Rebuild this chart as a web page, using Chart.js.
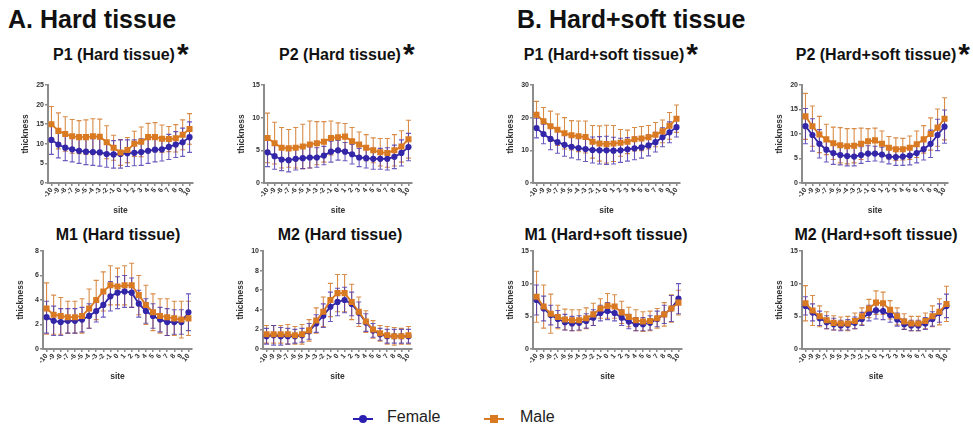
<!DOCTYPE html>
<html lang="en">
<head>
<meta charset="UTF-8">
<script src="https://cdn.jsdelivr.net/npm/chart.js@4.4.0/dist/chart.umd.min.js"></script>
<title>Thickness by site</title>
<style>
  body { margin: 0; width: 973px; height: 428px; background: #fff; position: relative; overflow: hidden;
         font-family: "Liberation Sans", Arial, sans-serif; color: #111; }
  .head { position: absolute; font-weight: bold; font-size: 25px; white-space: nowrap; top: 5px; }
  .ptitle { position: absolute; font-weight: bold; font-size: 16px; white-space: nowrap; transform: translateX(-50%); }
  .ptitle .star { position: absolute; left: 100%; top: -9px; font-size: 30px; margin-left: 2px; }
  canvas { position: absolute; }
  .legend { position: absolute; top: 408px; font-size: 16px; white-space: nowrap; color: #222; }
  .mk { position: absolute; top: 10px; height: 2px; width: 20px; }
  .mk i { position: absolute; left: 6px; top: -3px; width: 8px; height: 8px; }
</style>
</head>
<body>

<div class="head" style="left:8px">A. Hard tissue</div>
<div class="head" style="left:517px">B. Hard+soft tissue</div>

<div class="ptitle" style="left:114px;top:46px">P1 (Hard tissue)<span class="star">*</span></div>
<div class="ptitle" style="left:340px;top:46px">P2 (Hard tissue)<span class="star">*</span></div>
<div class="ptitle" style="left:604px;top:46px">P1 (Hard+soft tissue)<span class="star">*</span></div>
<div class="ptitle" style="left:876px;top:46px">P2 (Hard+soft tissue)<span class="star">*</span></div>
<div class="ptitle" style="left:118px;top:226px">M1 (Hard tissue)</div>
<div class="ptitle" style="left:340px;top:226px">M2 (Hard tissue)</div>
<div class="ptitle" style="left:606px;top:226px">M1 (Hard+soft tissue)</div>
<div class="ptitle" style="left:876px;top:226px">M2 (Hard+soft tissue)</div>

<div class="legend" style="left:353px">
  <span class="mk" style="left:0;background:#2a1fb0"><i style="background:#2a1fb0;border-radius:50%"></i></span>
  <span style="margin-left:34px">Female</span>
</div>
<div class="legend" style="left:484px">
  <span class="mk" style="left:0;background:#d97a22"><i style="background:#d97a22"></i></span>
  <span style="margin-left:36px">Male</span>
</div>

<script>
  var sites = ['-10','-9','-8','-7','-6','-5','-4','-3','-2','-1','0','1','2','3','4','5','6','7','8','9','10'];

  // P1 hard tissue
  var p1HardMale     = [15.0,13.3,12.5,11.9,11.7,11.7,11.9,11.8,10.4,9.0,7.8,8.4,10.0,10.5,11.7,11.7,11.3,11.2,11.4,12.3,13.8];
  var p1HardMaleSD   = [4.5,4.6,4.4,4.3,4.2,4.4,4.5,4.5,4.2,3.2,3.3,3.2,3.2,3.8,3.5,3.7,3.5,3.2,3.5,3.8,3.9];
  var p1HardFemale   = [11.0,9.8,9.0,8.6,8.2,8.0,7.9,7.8,7.4,7.3,7.4,7.6,7.7,7.9,8.2,8.5,8.6,9.2,9.8,10.4,11.7];
  var p1HardFemaleSD = [3.7,3.4,3.3,3.2,3.2,3.3,3.4,3.5,3.4,3.5,3.6,3.4,3.3,3.4,3.2,3.1,3.0,3.2,3.3,3.6,3.9];

  // P2 hard tissue
  var p2HardMale     = [6.9,6.1,5.4,5.3,5.4,5.6,5.9,6.1,6.3,6.9,7.0,7.1,6.4,5.9,5.4,5.0,4.7,4.6,5.0,5.6,6.7];
  var p2HardMaleSD   = [3.8,3.2,3.1,2.9,3.1,3.4,3.6,3.3,3.1,2.6,2.2,2.0,2.1,1.9,2.0,1.9,2.1,2.2,2.4,2.4,2.9];
  var p2HardFemale   = [4.7,4.1,3.6,3.5,3.7,3.8,3.9,3.9,4.2,4.8,5.0,4.8,4.4,3.9,3.8,3.7,3.7,3.7,4.0,4.6,5.5];
  var p2HardFemaleSD = [2.2,2.0,1.7,1.8,1.7,1.6,1.6,1.5,1.4,1.6,1.5,1.4,1.5,1.4,1.5,1.6,1.6,1.7,1.8,2.0,2.1];

  // P1 hard+soft tissue
  var p1SoftMale     = [20.9,18.9,17.4,16.3,15.2,14.6,14.3,14.1,12.6,12.1,11.9,12.1,12.3,12.6,13.4,13.6,14.0,14.8,15.8,17.5,19.7];
  var p1SoftMaleSD   = [4.1,4.2,4.6,4.8,4.8,4.5,4.7,4.9,5.0,5.4,5.8,5.5,4.1,3.6,3.6,3.7,3.6,3.7,3.5,4.1,4.2];
  var p1SoftFemale   = [16.8,15.0,13.5,12.5,11.7,11.1,10.7,10.4,10.1,10.0,10.0,9.9,10.0,10.3,10.6,10.9,11.5,12.5,14.0,15.5,17.1];
  var p1SoftFemaleSD = [3.0,3.0,3.3,3.4,3.5,3.4,3.6,3.8,4.0,4.2,4.3,4.1,3.7,3.6,3.5,3.3,3.2,3.0,2.9,3.2,3.0];

  // P2 hard+soft tissue
  var p2SoftMale     = [13.6,11.6,9.9,8.9,8.1,7.7,7.5,7.6,8.0,8.5,8.7,8.0,7.2,6.9,6.9,7.2,7.9,8.9,10.0,11.3,13.1];
  var p2SoftMaleSD   = [4.7,4.1,3.7,3.1,3.3,3.6,3.6,3.5,3.2,2.6,2.5,2.6,2.3,2.3,2.2,2.4,2.7,2.8,3.3,3.8,4.3];
  var p2SoftFemale   = [11.6,9.8,8.0,6.8,6.1,5.7,5.5,5.4,5.7,6.0,6.0,5.8,5.4,5.3,5.4,5.6,6.1,6.9,8.0,9.8,11.5];
  var p2SoftFemaleSD = [3.6,3.3,2.9,2.5,2.3,2.0,2.0,1.9,1.7,1.6,1.5,1.5,1.5,1.7,1.8,1.9,2.0,2.2,2.8,3.2,3.4];

  // M1 hard tissue
  var m1HardMale     = [3.3,2.8,2.7,2.6,2.6,2.7,3.3,4.0,4.7,5.2,5.1,5.2,5.2,4.4,3.6,3.0,2.7,2.6,2.5,2.4,2.5];
  var m1HardMaleSD   = [2.1,1.6,1.5,1.3,1.3,1.4,1.6,1.6,1.6,1.6,1.5,1.6,1.8,1.6,1.6,1.5,1.4,1.5,1.4,1.5,1.4];
  var m1HardFemale   = [2.6,2.3,2.2,2.3,2.3,2.4,2.7,3.1,3.6,4.3,4.6,4.7,4.6,3.7,3.1,2.7,2.4,2.2,2.2,2.2,3.0];
  var m1HardFemaleSD = [1.3,1.2,1.1,1.0,1.0,1.0,1.0,0.9,1.0,1.2,1.3,1.3,1.2,1.1,1.0,1.0,1.0,1.1,1.0,1.0,1.5];

  // M2 hard tissue
  var m2HardMale     = [1.5,1.5,1.5,1.5,1.4,1.5,1.9,2.9,3.8,5.0,5.7,5.7,4.8,3.8,2.8,2.0,1.6,1.4,1.3,1.3,1.4];
  var m2HardMaleSD   = [0.9,0.9,0.9,1.0,0.9,1.0,1.1,1.3,1.5,1.7,1.9,1.9,1.8,1.5,1.1,0.9,0.8,0.9,0.9,0.8,0.9];
  var m2HardFemale   = [1.3,1.4,1.3,1.3,1.3,1.4,1.8,2.6,3.4,4.3,4.8,5.0,4.6,3.7,2.7,1.9,1.5,1.3,1.3,1.3,1.3];
  var m2HardFemaleSD = [0.8,1.0,0.9,0.8,0.7,0.7,0.8,0.9,1.2,1.5,1.4,1.3,1.2,1.1,0.9,0.7,0.6,0.7,0.7,0.7,0.7];

  // M1 hard+soft tissue
  var m1SoftMale     = [8.0,6.5,5.4,4.9,4.5,4.4,4.4,4.7,5.3,6.2,6.6,6.5,5.6,4.9,4.4,4.2,4.3,4.7,5.3,6.2,7.1];
  var m1SoftMaleSD   = [3.9,3.3,3.0,1.8,1.6,1.6,1.6,1.6,1.7,1.5,1.9,1.8,1.7,1.5,1.6,1.5,1.5,1.5,1.8,2.1,1.9];
  var m1SoftFemale   = [7.5,6.2,5.2,4.6,4.1,3.9,4.0,4.3,4.8,5.5,5.8,5.5,4.8,4.2,3.8,3.8,4.0,4.6,5.3,6.2,7.7];
  var m1SoftFemaleSD = [2.3,1.9,1.5,1.3,1.2,1.1,1.1,1.1,1.2,1.2,1.3,1.2,1.2,1.1,1.0,1.0,1.1,1.2,1.4,2.0,2.3];

  // M2 hard+soft tissue
  var m2SoftMale     = [7.0,5.9,5.0,4.4,4.0,3.9,3.9,4.3,5.0,6.2,7.1,7.0,6.0,5.0,4.2,3.9,3.9,4.3,5.0,5.7,6.9];
  var m2SoftMaleSD   = [2.7,2.3,1.6,1.3,1.1,1.0,1.1,1.2,1.3,1.4,1.8,1.7,1.4,1.3,1.2,1.1,1.1,1.2,1.6,2.0,2.7];
  var m2SoftFemale   = [6.6,5.6,4.7,4.1,3.8,3.6,3.7,4.0,4.6,5.5,5.9,5.8,5.2,4.5,3.8,3.6,3.6,3.9,4.6,5.5,6.6];
  var m2SoftFemaleSD = [1.4,1.3,1.1,1.0,0.9,0.8,0.8,0.9,1.0,1.2,1.3,1.3,1.1,1.0,0.8,0.8,0.8,0.9,1.1,1.4,1.8];

  var femaleColor = '#3326a8';
  var maleColor = '#d97a22';
  var axisColor = '#8c8c8c';

  // draw mean +/- SD whiskers under the points
  var errorBars = {
    id: 'errorBars',
    beforeDatasetsDraw: function (chart) {
      var ctx = chart.ctx, y = chart.scales.y;
      chart.data.datasets.forEach(function (ds, i) {
        var meta = chart.getDatasetMeta(i);
        ctx.save();
        ctx.strokeStyle = ds.errColor;
        ctx.lineWidth = 1.1;
        meta.data.forEach(function (pt, j) {
          var v = ds.data[j], e = ds.sd[j];
          var y1 = y.getPixelForValue(v + e), y2 = y.getPixelForValue(Math.max(0, v - e));
          ctx.beginPath();
          ctx.moveTo(pt.x, y1); ctx.lineTo(pt.x, y2);
          ctx.moveTo(pt.x - 2.5, y1); ctx.lineTo(pt.x + 2.5, y1);
          ctx.moveTo(pt.x - 2.5, y2); ctx.lineTo(pt.x + 2.5, y2);
          ctx.stroke();
        });
        ctx.restore();
      });
    }
  };

  function panel(box, max, step, male, maleSD, female, femaleSD) {
    // box = plot area in page pixels: left, right, top, bottom
    var yW = 27, xH = 36, padTop = 10, padRight = 8;
    var left = box[0] - yW, top = box[2] - padTop;
    var w = box[1] - left + padRight, h = box[3] - top + xH;
    var cv = document.createElement('canvas');
    cv.width = w; cv.height = h;
    cv.style.left = left + 'px'; cv.style.top = top + 'px';
    cv.style.width = w + 'px'; cv.style.height = h + 'px';
    document.body.appendChild(cv);

    var tickFont = { family: 'Liberation Sans', size: 7, weight: 'bold' };
    var titleFont = { family: 'Liberation Sans', size: 8.5, weight: 'bold' };
    var grid = { drawOnChartArea: false, drawTicks: true, tickLength: 3, color: axisColor, lineWidth: 1.5, offset: false };

    new Chart(cv, {
      type: 'line',
      data: {
        labels: sites,
        datasets: [{
          data: male, sd: maleSD, errColor: 'rgba(210,120,40,0.85)',
          borderColor: maleColor, backgroundColor: maleColor, borderWidth: 1.8,
          pointStyle: 'rect', pointRadius: 3, tension: 0
        }, {
          data: female, sd: femaleSD, errColor: 'rgba(70,50,175,0.8)',
          borderColor: femaleColor, backgroundColor: femaleColor, borderWidth: 1.8,
          pointStyle: 'circle', pointRadius: 2.2, tension: 0
        }]
      },
      options: {
        responsive: false,
        animation: false,
        layout: { padding: { top: padTop, right: padRight, left: 0, bottom: 0 } },
        plugins: { legend: { display: false }, tooltip: { enabled: false } },
        scales: {
          x: {
            offset: true,
            grid: grid,
            border: { color: axisColor, width: 2 },
            ticks: { autoSkip: false, minRotation: 50, maxRotation: 50, font: tickFont, color: '#333', padding: 0 },
            title: { display: true, text: 'site', font: titleFont, color: '#333', padding: { top: 0, bottom: 3 } },
            afterFit: function (s) { s.height = xH; }
          },
          y: {
            min: 0, max: max,
            grid: grid,
            border: { color: axisColor, width: 2 },
            ticks: { stepSize: step, font: tickFont, color: '#333', padding: 1 },
            title: { display: true, text: 'thickness', font: titleFont, color: '#333', padding: { top: 0, bottom: 0 } },
            afterFit: function (s) { s.width = yW; }
          }
        }
      },
      plugins: [errorBars]
    });
  }

  panel([48, 193, 85, 183], 25, 5, p1HardMale, p1HardMaleSD, p1HardFemale, p1HardFemaleSD);
  panel([264, 412, 85, 183], 15, 5, p2HardMale, p2HardMaleSD, p2HardFemale, p2HardFemaleSD);
  panel([533, 680, 85, 183], 30, 10, p1SoftMale, p1SoftMaleSD, p1SoftFemale, p1SoftFemaleSD);
  panel([802, 948, 85, 183], 20, 5, p2SoftMale, p2SoftMaleSD, p2SoftFemale, p2SoftFemaleSD);
  panel([43, 192, 251, 349], 8, 2, m1HardMale, m1HardMaleSD, m1HardFemale, m1HardFemaleSD);
  panel([263, 412, 251, 349], 10, 2, m2HardMale, m2HardMaleSD, m2HardFemale, m2HardFemaleSD);
  panel([533, 682, 251, 349], 15, 5, m1SoftMale, m1SoftMaleSD, m1SoftFemale, m1SoftFemaleSD);
  panel([802, 950, 251, 349], 15, 5, m2SoftMale, m2SoftMaleSD, m2SoftFemale, m2SoftFemaleSD);
</script>

</body>
</html>
